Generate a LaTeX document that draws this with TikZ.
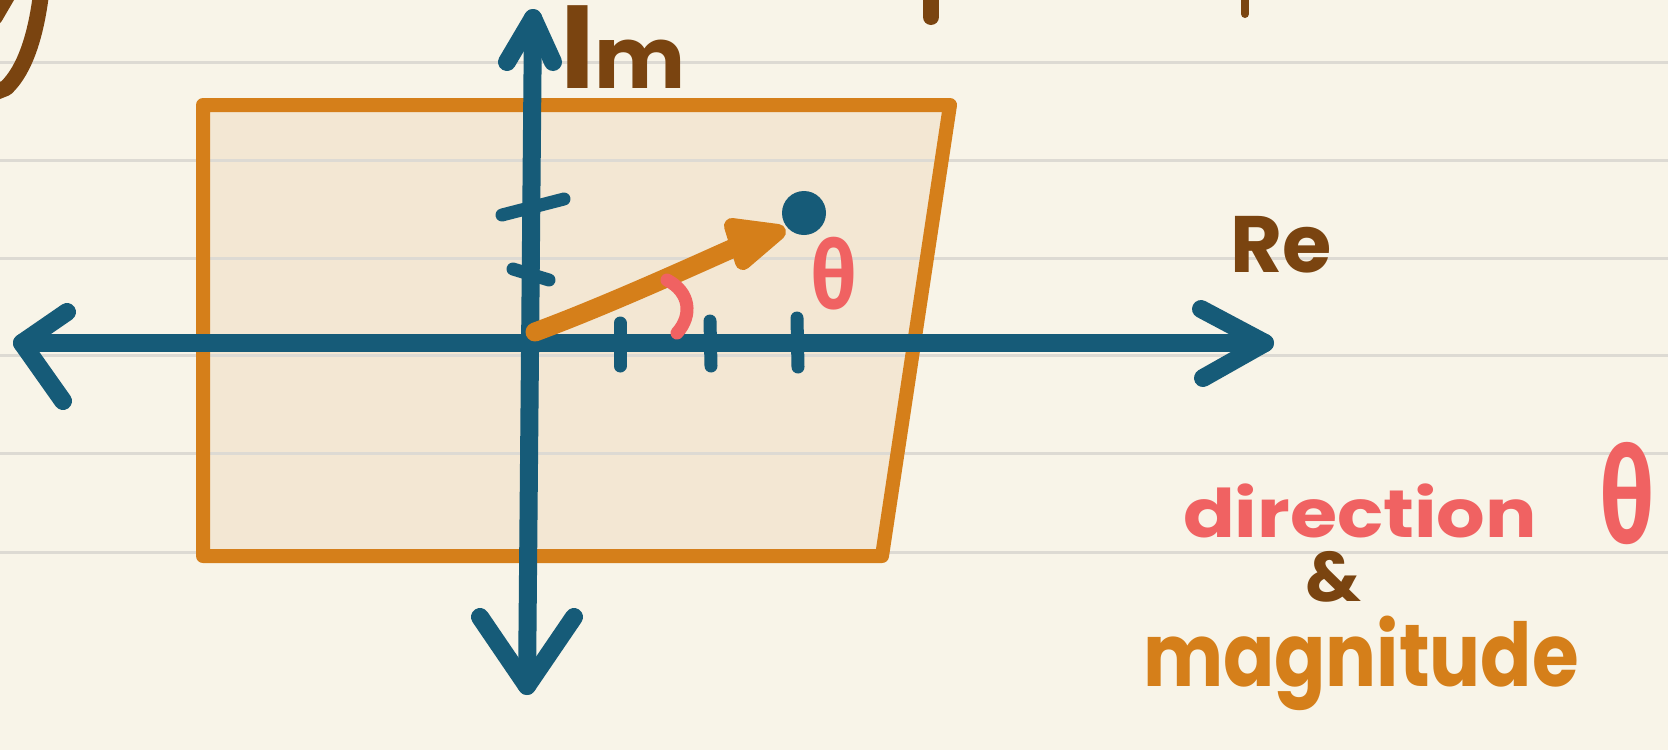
\documentclass[tikz,border=0pt]{standalone}
\usepackage{fontspec}
\usepackage{graphicx}
\newfontfamily\hand{Poppins}
\newfontfamily\greekhand{Fira Sans}
\definecolor{bg}{HTML}{F8F4E8}
\definecolor{rule}{HTML}{DDDAD3}
\definecolor{planefill}{HTML}{F3E7D3}
\definecolor{orangeink}{HTML}{D57F1A}
\definecolor{blueink}{HTML}{165B78}
\definecolor{redink}{HTML}{F06262}
\definecolor{brownink}{HTML}{7A4410}
\tikzset{
  ruleline/.style={rule, line width=3pt},
  axis/.style={blueink, line width=18pt},
  tick/.style={blueink, line width=13pt},
  planeedge/.style={orangeink, line width=14pt},
  lbl/.style={inner sep=0pt, outer sep=0pt},
}
\begin{document}
\begin{tikzpicture}[x=1pt,y=-1pt,line cap=round,line join=round]
\useasboundingbox (0,0) rectangle (1668,750);
\fill[bg] (0,0) rectangle (1668,750);
% plane fill
\fill[planefill] (203,105) -- (950,105) -- (882,556) -- (203,556) -- cycle;
% ruled lines
\foreach \yy in {62,160,258,355,453,552}
  \draw[ruleline] (0,\yy) -- (1668,\yy);
% plane outline
\draw[planeedge] (203,105) -- (950,105) -- (882,556) -- (203,556) -- cycle;
% fragments of writing above
\draw[brownink, line width=16pt] (41,-6) .. controls (36,35) and (25,70) .. (6,88) -- (-4,92);
\draw[brownink, line width=13pt] (10,-6) -- (-4,18);
\draw[brownink, line width=16pt] (931,-6) -- (931,17);
\draw[brownink, line width=8pt] (1245,-6) -- (1245,14);
% axes
\coordinate (xl) at (22,343);
\coordinate (xr) at (1265,343);
\coordinate (yt) at (533,18);
\coordinate (yb) at (527,686);
\draw[axis] (xl) -- (xr);
\draw[axis] (yt) -- (yb);
\draw[axis] (67,312) -- (xl) -- (63,401);
\draw[axis] (1201,309) -- (xr) -- (1203,378);
\draw[axis] (507,62) -- (yt) -- (553,62);
\draw[axis] (480,617) -- (yb) -- (574,617);
% ticks
\draw[tick] (620,323) -- (620,366);
\draw[tick] (710,321) -- (711,366);
\draw[tick] (797,318) -- (798,367);
\draw[tick] (502,215) -- (564,199);
\draw[tick] (513,269) -- (549,280);
% vector
\coordinate (vs) at (535,332);
\coordinate (vh) at (738,246);
\draw[orangeink, line width=19pt] (vs) .. controls (600,308) and (680,272) .. (vh);
\filldraw[orangeink, line width=16pt] (732,226) -- (778,232) -- (743,262) -- cycle;
% point
\node[circle, fill=blueink, minimum size=44pt, inner sep=0pt] (pt) at (804,213) {};
% angle arc
\draw[redink, line width=13pt] (667,280) .. controls (690,292) and (693,315) .. (677,333);
% labels
\node[lbl, anchor=base west, brownink] (im) at (560,88) {\hand\bfseries{\fontsize{118}{120}\selectfont I}{\fontsize{86}{90}\selectfont m}};
\node[lbl, anchor=base west, brownink] (re) at (1230,272) {\hand\bfseries\fontsize{80}{88}\selectfont Re};
\node[lbl, redink] (th) at (834,274) {\scalebox{0.85}[1]{\greekhand\bfseries\fontsize{94}{100}\selectfont θ}};
\node[lbl, anchor=base west, redink] (dir) at (1183,537) {\scalebox{1.14}[1]{\hand\bfseries\fontsize{67}{74}\selectfont direction}};
\node[lbl, redink] (dth) at (1627,494) {\scalebox{0.72}[1]{\greekhand\bfseries\fontsize{132}{140}\selectfont θ}};
\node[lbl, brownink] (amp) at (1333,577) {\hand\bfseries\fontsize{70}{76}\selectfont \&};
\node[lbl, anchor=base west, orangeink] (mag) at (1143,686) {\scalebox{0.86}[1]{\hand\bfseries\fontsize{88}{96}\selectfont magnitude}};
\end{tikzpicture}
\end{document}
